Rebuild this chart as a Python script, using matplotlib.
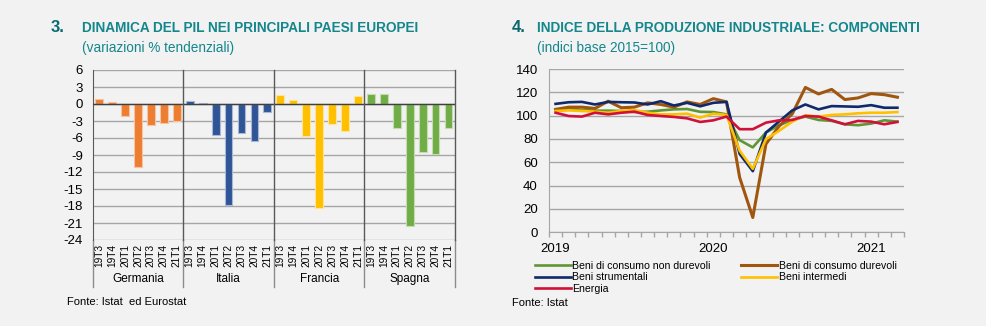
import numpy as np
import matplotlib
matplotlib.use('Agg')
import matplotlib.pyplot as plt
import matplotlib.transforms as mtransforms

plt.rcParams['font.family'] = ['Liberation Sans', 'DejaVu Sans']
plt.rcParams['axes.unicode_minus'] = False

# ── Data: chart 3 (GDP y/y % change) ─────────────────────────────────────────
quarters = ['19T3', '19T4', '20T1', '20T2', '20T3', '20T4', '21T1']
countries = ['Germania', 'Italia', 'Francia', 'Spagna']
germania = [0.8, 0.4, -2.1, -11.2, -3.7, -3.3, -3.0]
italia = [0.5, 0.1, -5.5, -17.9, -5.1, -6.5, -1.4]
francia = [1.6, 0.7, -5.7, -18.4, -3.6, -4.7, 1.5]
spagna = [1.8, 1.7, -4.2, -21.5, -8.5, -8.8, -4.2]
bar_colors = ['#ED7D31', '#2F5597', '#FFC000', '#70AD47']
halo_colors = ['#F7C3A0', '#A9B8D8', '#FFE499', '#C3DDB0']

# ── Data: chart 4 (industrial production index, 2015=100) ────────────────────
months = np.arange(27)  # Jan 2019 .. Mar 2021
year_labels = ['2019', '2020', '2021']
non_durevoli = [105.0, 106.5, 104.8, 104.3, 104.3, 104.0, 103.1, 103.4, 104.5, 105.4,
                105.7, 103.3, 103.1, 101.1, 79.0, 72.8, 85.6, 91.8, 96.3, 99.2,
                96.3, 95.5, 92.6, 91.8, 93.2, 96.0, 94.9]
durevoli = [105.4, 107.3, 107.3, 106.2, 112.4, 106.8, 107.3, 111.0, 109.6, 107.3,
            111.8, 109.6, 114.6, 111.8, 47.0, 12.7, 75.7, 91.0, 101.5, 124.2,
            118.6, 122.5, 113.8, 115.2, 118.9, 118.0, 115.8]
strumentali = [110.1, 111.5, 111.8, 109.6, 111.8, 111.5, 111.3, 109.6, 112.4, 108.7,
               111.0, 108.0, 111.0, 111.8, 67.2, 52.4, 85.5, 95.0, 104.5, 109.6,
               105.4, 108.2, 107.9, 107.6, 109.0, 106.8, 106.8]
intermedi = [104.0, 104.5, 104.0, 103.4, 102.5, 104.0, 104.8, 102.5, 101.1, 101.1,
             101.7, 98.3, 101.7, 100.6, 70.0, 54.4, 79.9, 87.0, 94.9, 100.3,
             99.2, 100.6, 101.1, 102.0, 102.5, 102.5, 103.1]
energia = [102.5, 99.7, 99.2, 102.5, 101.1, 102.5, 103.4, 100.6, 99.7, 98.9,
           97.7, 94.6, 96.0, 99.2, 88.4, 88.4, 94.0, 96.0, 96.3, 99.7,
           99.2, 96.0, 92.6, 95.5, 94.9, 92.6, 94.6]
series_names = ['Beni di consumo non durevoli', 'Beni di consumo durevoli',
                'Beni strumentali', 'Beni intermedi', 'Energia']

TEAL = '#14868C'
TEAL_DARK = '#0B6A70'
GRID = '#A6A6A6'
AXIS = '#595959'
BG = '#F2F2F2'

fig = plt.figure(figsize=(9.86, 3.26), dpi=100, facecolor=BG)


def px(x, y):
    return x / 986, 1 - y / 326


# ── Titles ───────────────────────────────────────────────────────────────────
fig.text(*px(51, 28), '3.', color=TEAL_DARK, fontsize=12, fontweight='bold', va='center')
fig.text(*px(82, 28), 'DINAMICA DEL PIL NEI PRINCIPALI PAESI EUROPEI', color=TEAL,
         fontsize=9.8, fontweight='bold', va='center')
fig.text(*px(82, 48), '(variazioni % tendenziali)', color=TEAL, fontsize=9.8, va='center')
fig.text(*px(512, 28), '4.', color=TEAL_DARK, fontsize=12, fontweight='bold', va='center')
fig.text(*px(537, 28), 'INDICE DELLA PRODUZIONE INDUSTRIALE: COMPONENTI', color=TEAL,
         fontsize=9.8, fontweight='bold', va='center')
fig.text(*px(537, 48), '(indici base 2015=100)', color=TEAL, fontsize=9.8, va='center')

# ── Chart 3: bars ────────────────────────────────────────────────────────────
ax1 = fig.add_axes([92.7 / 986, 1 - 240 / 326, (455 - 92.7) / 986, 170 / 326])
ax1.set_facecolor(BG)
all_vals = [germania, italia, francia, spagna]
for g, vals in enumerate(all_vals):
    xs = np.arange(len(vals)) + g * len(quarters)
    ax1.bar(xs, vals, width=0.6, color=bar_colors[g], edgecolor=halo_colors[g],
            linewidth=0.8, zorder=3)

ax1.set_xlim(-0.5, 27.5)
ax1.set_ylim(-24, 6)
ax1.set_yticks(np.arange(-24, 7, 3))
ax1.yaxis.grid(True, color=GRID, linewidth=1.0, zorder=0)
ax1.axhline(0, color='#404040', linewidth=1.0, zorder=4)
for s in ['top', 'right', 'bottom']:
    ax1.spines[s].set_visible(False)
ax1.spines['left'].set_color(AXIS)
ax1.tick_params(axis='y', length=0, labelsize=9.5, pad=7)
ax1.set_xticks(np.arange(28))
ax1.set_xticklabels(quarters * 4, rotation=90, fontsize=7.3)
ax1.tick_params(axis='x', length=0, pad=3)

trans1 = mtransforms.blended_transform_factory(ax1.transData, ax1.transAxes)
for k in range(1, 5):
    xsep = k * 7 - 0.5
    ax1.plot([xsep, xsep], [1, 0], transform=trans1, color=AXIS, lw=1.0,
             clip_on=False, zorder=5)
for k in range(5):
    xsep = k * 7 - 0.5
    ax1.plot([xsep, xsep], [0, -0.276], transform=trans1, color='#8C8C8C', lw=1.0,
             clip_on=False)
for g, name in enumerate(countries):
    ax1.text(g * 7 + 3, -0.232, name, transform=trans1, ha='center', va='center',
             fontsize=8.5)

fig.text(*px(67, 302), 'Fonte: Istat  ed Eurostat', fontsize=8, va='center')

# ── Chart 4: lines ───────────────────────────────────────────────────────────
ax2 = fig.add_axes([549 / 986, 1 - 232.3 / 326, (904 - 549) / 986, 163.3 / 326])
ax2.set_facecolor(BG)
line_colors = ['#5F9634', '#A0560F', '#0F2A6B', '#FFC000', '#D0103A']
line_widths = [1.9, 2.2, 1.9, 1.9, 1.9]
data = [non_durevoli, durevoli, strumentali, intermedi, energia]
handles = []
for vals, col, lw, name in zip(data, line_colors, line_widths, series_names):
    h, = ax2.plot(months, vals, color=col, lw=lw, label=name, zorder=3)
    handles.append(h)

ax2.set_xlim(-0.5, 26.5)
ax2.set_ylim(0, 140)
ax2.set_yticks(np.arange(0, 141, 20))
ax2.yaxis.grid(True, color=GRID, linewidth=1.0, zorder=0)
for s in ['top', 'right']:
    ax2.spines[s].set_visible(False)
ax2.spines['left'].set_color(GRID)
ax2.spines['bottom'].set_color(GRID)
ax2.tick_params(axis='y', length=0, labelsize=9.5, pad=8)
ax2.set_xticks([0, 12, 24])
ax2.set_xticklabels(year_labels, fontsize=9.5)
ax2.set_xticks(np.arange(-0.5, 27, 1), minor=True)
ax2.tick_params(axis='x', which='major', length=0, pad=8)
ax2.tick_params(axis='x', which='minor', length=3.5, color=GRID, width=1)

order = [0, 2, 4, 1, 3]
fig.legend([handles[i] for i in order], [series_names[i] for i in order],
           ncol=2, loc='upper left', bbox_to_anchor=(535 / 986, 1 - 261 / 326),
           frameon=False, fontsize=7.6, handlelength=3.4, handletextpad=0.15,
           labelspacing=0.12, columnspacing=2.9, borderpad=0, borderaxespad=0)

fig.text(*px(512, 303), 'Fonte: Istat', fontsize=8, va='center')

fig.savefig('out.png', dpi=100, facecolor=BG)
